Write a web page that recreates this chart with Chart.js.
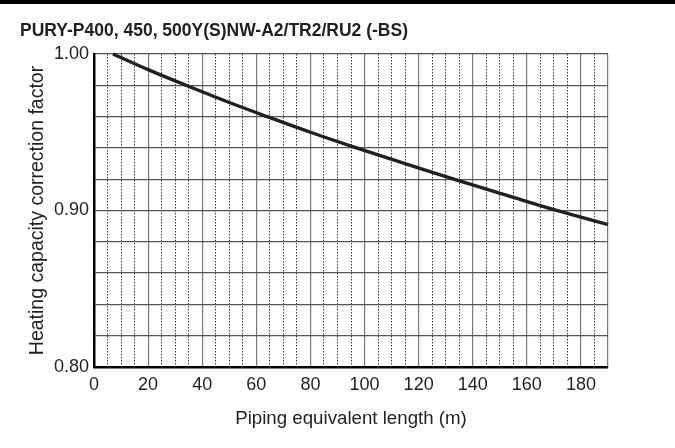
<!DOCTYPE html>
<html>
<head>
<meta charset="utf-8">
<script src="https://cdn.jsdelivr.net/npm/chart.js@4.4.1/dist/chart.umd.min.js"></script>
<style>
  html, body { margin: 0; padding: 0; background: #fff; }
  #wrap { position: relative; width: 675px; height: 448px; }
  #barra { position: absolute; left: 0; top: 0; width: 675px; height: 4px; background: #000; }
  canvas { position: absolute; left: 0; top: 0; }
</style>
</head>
<body>
<div id="wrap">
  <canvas id="grafico" width="675" height="448"></canvas>
  <div id="barra"></div>
</div>
<script>
// Dados
var titulo = 'PURY-P400, 450, 500Y(S)NW-A2/TR2/RU2 (-BS)';
var tituloX = 'Piping equivalent length (m)';
var tituloY = 'Heating capacity correction factor';

var comprimento = [7, 20, 34, 50, 64, 80, 97, 115, 133, 152, 171, 190];
var fator = [1.000, 0.990, 0.980, 0.969, 0.960, 0.950, 0.940, 0.930, 0.920, 0.910, 0.900, 0.891];

var marcasX = [0, 20, 40, 60, 80, 100, 120, 140, 160, 180];
var limitesX = [0, 190];
var limitesY = [0.80, 1.00];

var corTexto = '#231f20';
var fonte = "'Liberation Sans', Arial, sans-serif";

function montarPontos(xs, ys) {
    var pontos = [];
    xs.forEach(function(x, i) {
        pontos.push({x: x, y: ys[i]});
    });
    return pontos;
}

function criarGrafico() {
    var ctx = document.getElementById('grafico').getContext('2d');
    var grafico = new Chart(ctx, {
        type: 'line',
        data: {
            datasets: [{
                data: montarPontos(comprimento, fator),
                borderColor: corTexto,
                borderWidth: 3.4,
                pointRadius: 0,
                fill: false,
                cubicInterpolationMode: 'monotone',
                clip: false
            }]
        },
        options: {
            responsive: false,
            animation: false,
            layout: {
                padding: {left: 20, right: 67, top: 10, bottom: 18}
            },
            plugins: {
                legend: { display: false },
                tooltip: { enabled: false },
                title: {
                    display: true,
                    text: titulo,
                    align: 'start',
                    color: corTexto,
                    font: { family: fonte, size: 17.5, weight: 'bold' },
                    padding: { top: 11, bottom: 12 }
                }
            },
            scales: {
                x: {
                    type: 'linear',
                    min: limitesX[0],
                    max: limitesX[1],
                    afterBuildTicks: function(escala) {
                        escala.ticks = marcasX.concat([limitesX[1]]).map(function(v) { return {value: v}; });
                    },
                    ticks: {
                        autoSkip: false,
                        maxRotation: 0,
                        color: corTexto,
                        padding: 7,
                        font: { family: fonte, size: 18 },
                        callback: function(v) { return marcasX.indexOf(v) >= 0 ? v : ''; }
                    },
                    grid: { color: '#7a7a7a', lineWidth: 1.2, drawTicks: false },
                    border: { color: '#000', width: 2.5 },
                    title: {
                        display: true,
                        text: tituloX,
                        color: corTexto,
                        font: { family: fonte, size: 18.7 },
                        padding: { top: 5, bottom: 0 }
                    }
                },
                x2: {
                    type: 'linear',
                    position: 'top',
                    min: limitesX[0],
                    max: limitesX[1],
                    ticks: { stepSize: 5, display: false },
                    grid: {
                        drawTicks: false,
                        lineWidth: 1,
                        color: function(c) {
                            var v = c.tick ? c.tick.value : 0;
                            return (v % 20 === 0 || v >= limitesX[1]) ? 'rgba(0,0,0,0)' : '#3a3a3a';
                        }
                    },
                    border: { display: false, dash: [1.5, 1.5] }
                },
                y: {
                    type: 'linear',
                    min: limitesY[0],
                    max: limitesY[1],
                    afterFit: function(escala) { escala.width = 74; },
                    ticks: {
                        stepSize: 0.02,
                        autoSkip: false,
                        color: corTexto,
                        padding: 5,
                        font: { family: fonte, size: 18 },
                        callback: function(v) {
                            return Math.round(v * 100) % 10 === 0 ? v.toFixed(2) : '';
                        }
                    },
                    grid: { color: '#555', lineWidth: 1.2, drawTicks: false },
                    border: { color: '#000', width: 2.5 },
                    title: {
                        display: true,
                        text: tituloY,
                        color: corTexto,
                        font: { family: fonte, size: 19.5 },
                        padding: { top: 6, bottom: 1 }
                    }
                }
            }
        }
    });
}

criarGrafico();
</script>
</body>
</html>
